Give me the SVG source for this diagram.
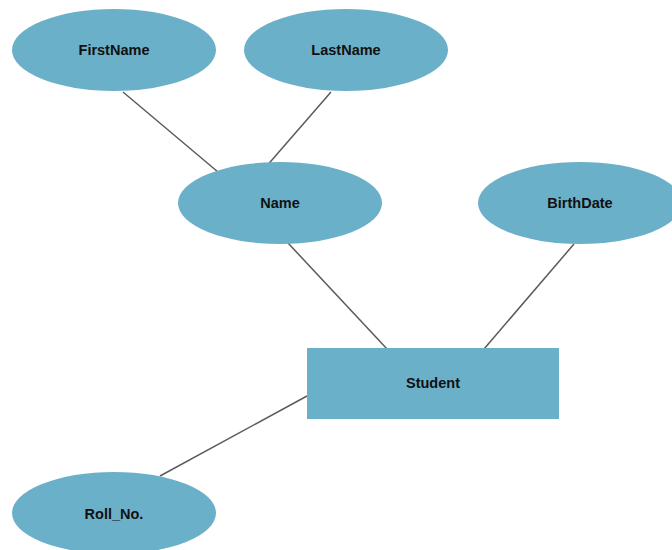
<svg xmlns="http://www.w3.org/2000/svg" width="672" height="550" viewBox="0 0 672 550">
<style>
.n{fill:#6BB0C9;}
.t{font-family:"Liberation Sans",Arial,sans-serif;font-weight:bold;font-size:14.5px;fill:#111;text-anchor:middle;dominant-baseline:central;}
.c line{stroke:#5a5a5a;stroke-width:1.5;}
</style>
<rect width="672" height="550" fill="#fff"/>
<g class="c" id="connectors">
<line x1="123" y1="92" x2="218" y2="172"/>
<line x1="331" y1="92" x2="265" y2="168"/>
<line x1="288" y1="243" x2="388" y2="350"/>
<line x1="574" y1="244" x2="484" y2="349"/>
<line x1="307" y1="396" x2="160" y2="476"/>
</g>
<g id="firstname"><ellipse class="n" cx="114" cy="50" rx="102" ry="41"/><text class="t" x="114" y="50">FirstName</text></g>
<g id="lastname"><ellipse class="n" cx="346" cy="50" rx="102" ry="41"/><text class="t" x="346" y="50">LastName</text></g>
<g id="name"><ellipse class="n" cx="280" cy="203" rx="102" ry="41"/><text class="t" x="280" y="203">Name</text></g>
<g id="birthdate"><ellipse class="n" cx="580" cy="203" rx="102" ry="41"/><text class="t" x="580" y="203">BirthDate</text></g>
<g id="student"><rect class="n" x="307" y="348" width="252" height="71"/><text class="t" x="433" y="383">Student</text></g>
<g id="rollno"><ellipse class="n" cx="114" cy="513" rx="102" ry="41"/><text class="t" x="114" y="514">Roll_No.</text></g>
</svg>
